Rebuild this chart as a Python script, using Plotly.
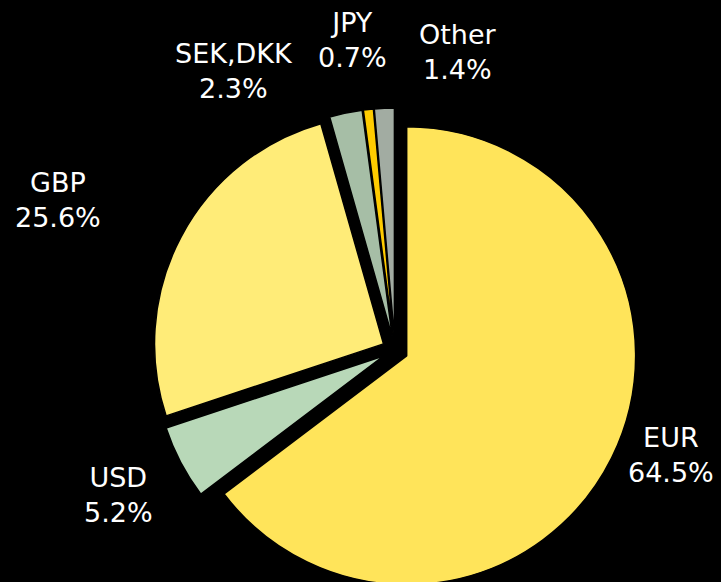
import plotly.graph_objects as go

# Currency composition (share of total, %)
currencies = ["EUR", "USD", "GBP", "SEK,DKK", "JPY", "Other"]
shares = [64.5, 5.2, 25.6, 2.3, 0.7, 1.4]

# Slice fills
slice_colors = ["#FFE45A", "#B8D8B8", "#FFEC78", "#A6BEA6", "#FFCC00", "#A2ACA2"]

# Label block centres in pixels (x from left, y from top)
label_px = [(671, 455), (118, 495), (58, 200), (234, 71), (352, 40), (458, 52)]

W, H = 721, 600
FONT = "DejaVu Sans, Verdana, sans-serif"

fig = go.Figure(
    go.Pie(
        labels=currencies,
        values=shares,
        sort=False,
        direction="clockwise",
        rotation=0,
        pull=[0.057] * len(shares),
        marker=dict(colors=slice_colors, line=dict(color="#000000", width=1.5)),
        textinfo="none",
        hovertemplate="%{label}: %{value:.1f}%<extra></extra>",
        domain=dict(x=[153 / W, 637 / W], y=[8 / H, 492 / H]),
        showlegend=False,
    )
)

for name, val, (px, py) in zip(currencies, shares, label_px):
    fig.add_annotation(
        x=px / W,
        y=1 - py / H,
        xref="paper",
        yref="paper",
        xanchor="center",
        yanchor="middle",
        text=f"{name}<br>{val:.1f}%",
        showarrow=False,
        align="center",
        font=dict(family=FONT, size=27, color="#FFFFFF"),
    )

fig.update_layout(
    width=W,
    height=H,
    margin=dict(l=0, r=0, t=0, b=0),
    paper_bgcolor="#000000",
    plot_bgcolor="#000000",
)

fig.write_html(
    "out.html",
    config={"displayModeBar": False},
    post_script="document.documentElement.style.overflow='hidden';document.body.style.overflow='hidden';document.body.style.margin='0';",
)
